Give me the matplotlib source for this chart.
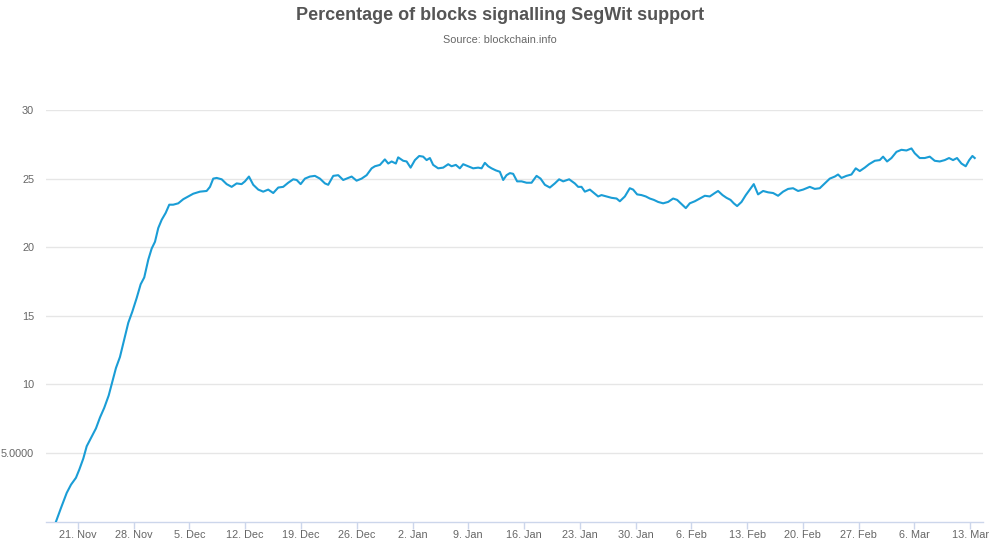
import matplotlib
matplotlib.use("Agg")
import matplotlib.pyplot as plt
import matplotlib.dates as mdates
import pandas as pd

# ---- data ----
start_date = "2016-11-17"
day_offsets = [
    1.25, 1.88, 2.60, 3.14, 3.76, 4.18, 4.68, 5.11, 5.65, 6.27, 6.78, 7.31, 7.87, 8.28, 8.78,
    9.28, 9.70, 10.33, 10.83, 11.38, 11.88, 12.33, 12.84, 13.26, 13.68, 14.09, 14.52, 15.02,
    15.47, 15.97, 16.60, 17.23, 17.85, 18.48, 19.32, 20.16, 20.58, 20.99, 21.42, 22.05, 22.67,
    23.30, 23.93, 24.55, 24.97, 25.47, 26.01, 26.64, 27.26, 27.89, 28.52, 29.15, 29.77, 30.40,
    31.03, 31.46, 31.96, 32.50, 33.12, 33.75, 34.38, 35.01, 35.42, 36.05, 36.68, 37.30, 37.73,
    38.36, 38.98, 39.61, 40.24, 40.87, 41.28, 41.91, 42.53, 42.95, 43.38, 43.91, 44.20, 44.83,
    45.26, 45.76, 46.30, 46.84, 47.34, 47.77, 48.18, 48.59, 49.22, 49.85, 50.48, 50.90, 51.44,
    51.94, 52.36, 52.99, 53.61, 54.24, 54.67, 55.08, 55.50, 55.92, 56.46, 56.96, 57.38, 57.80,
    58.22, 58.63, 59.13, 59.69, 60.31, 60.94, 61.57, 62.07, 62.61, 63.24, 63.86, 64.40, 64.91,
    65.66, 66.37, 66.79, 67.21, 67.63, 68.26, 68.67, 69.30, 69.72, 70.35, 70.98, 71.61, 72.02,
    72.65, 73.27, 73.69, 74.19, 74.74, 75.28, 75.78, 76.29, 76.83, 77.45, 78.08, 78.71, 79.21,
    79.76, 80.30, 80.80, 81.43, 82.06, 82.69, 83.31, 83.94, 84.35, 84.91, 85.41, 85.91, 86.32,
    86.74, 87.29, 87.83, 88.33, 88.83, 89.37, 90.00, 90.63, 91.26, 91.88, 92.51, 93.14, 93.76,
    94.39, 95.02, 95.86, 96.49, 97.11, 97.74, 98.37, 99.00, 99.41, 99.84, 100.46, 101.09,
    101.63, 102.13, 102.76, 103.30, 104.02, 104.64, 105.06, 105.56, 106.11, 106.74, 107.36,
    107.99, 108.62, 109.03, 109.66, 110.29, 110.92, 111.54, 112.17, 112.80, 113.34, 113.84,
    114.34, 114.89, 115.43, 115.87, 116.27, 116.56,
]
segwit_pct = [
    0.0, 1.0, 2.1, 2.7, 3.2, 3.8, 4.6, 5.5, 6.1, 6.8, 7.6, 8.3, 9.2, 10.1, 11.2,
    12.0, 13.0, 14.5, 15.3, 16.3, 17.3, 17.8, 19.1, 19.9, 20.4, 21.4, 22.0, 22.5,
    23.1, 23.1, 23.2, 23.5, 23.7, 23.9, 24.05, 24.1, 24.4, 25.0, 25.05, 24.95, 24.6,
    24.4, 24.65, 24.6, 24.8, 25.15, 24.55, 24.2, 24.05, 24.2, 23.95, 24.35, 24.4, 24.7,
    24.95, 24.9, 24.6, 25.0, 25.15, 25.2, 25.0, 24.65, 24.55, 25.2, 25.25, 24.9, 25.0,
    25.15, 24.85, 25.0, 25.25, 25.75, 25.9, 26.0, 26.4, 26.1, 26.25, 26.1, 26.55, 26.3,
    26.25, 25.8, 26.35, 26.65, 26.6, 26.35, 26.5, 26.0, 25.75, 25.8, 26.05, 25.9, 26.0,
    25.75, 26.05, 25.9, 25.75, 25.8, 25.75, 26.15, 25.9, 25.75, 25.6, 25.5, 24.9, 25.25,
    25.4, 25.35, 24.8, 24.8, 24.7, 24.7, 25.2, 25.0, 24.55, 24.35, 24.65, 24.95, 24.8,
    24.95, 24.65, 24.4, 24.4, 24.05, 24.2, 24.0, 23.7, 23.8, 23.7, 23.6, 23.55, 23.35,
    23.7, 24.3, 24.2, 23.85, 23.8, 23.7, 23.55, 23.45, 23.3, 23.2, 23.3, 23.55, 23.45,
    23.15, 22.85, 23.2, 23.35, 23.55, 23.75, 23.7, 23.95, 24.1, 23.8, 23.6, 23.45, 23.2,
    23.0, 23.3, 23.8, 24.2, 24.6, 23.85, 24.1, 24.0, 23.95, 23.75, 24.05, 24.25, 24.3,
    24.1, 24.2, 24.4, 24.25, 24.3, 24.65, 25.0, 25.15, 25.3, 25.05, 25.2, 25.3,
    25.75, 25.55, 25.8, 26.05, 26.3, 26.35, 26.6, 26.25, 26.5, 26.95, 27.1,
    27.05, 27.2, 26.85, 26.5, 26.5, 26.6, 26.3, 26.25, 26.35, 26.5, 26.35,
    26.5, 26.1, 25.9, 26.35, 26.65, 26.5,
]
ytick_values = [5, 10, 15, 20, 25, 30]
ytick_labels = ["5.0000", "10", "15", "20", "25", "30"]
title_text = "Percentage of blocks signalling SegWit support"
subtitle_text = "Source: blockchain.info"

# ---- plot ----
plt.rcParams["font.family"] = ["Liberation Sans", "DejaVu Sans"]

t0 = pd.Timestamp(start_date)
dates = [t0 + pd.Timedelta(days=d) for d in day_offsets]

fig = plt.figure(figsize=(10, 5.44), dpi=100)
ax = fig.add_axes([0.046, 1 - 521.7 / 544, 0.937, (521.7 - 110) / 544])

ax.plot(dates, segwit_pct, color="#1a9dd6", linewidth=1.5, solid_joinstyle="round", zorder=3)

ax.set_ylim(0, 30)
ax.set_xlim(t0, t0 + pd.Timedelta(days=117.6))

ax.set_yticks(ytick_values)
ax.set_yticklabels(ytick_labels)
ax.grid(axis="y", color="#e6e6e6", linewidth=1)
ax.set_axisbelow(True)

ax.xaxis.set_major_locator(mdates.WeekdayLocator(byweekday=mdates.MO))
ax.xaxis.set_major_formatter(
    matplotlib.ticker.FuncFormatter(lambda v, p: (lambda d: f"{d.day}. {d.strftime('%b')}")(mdates.num2date(v)))
)

for s in ["top", "right", "left"]:
    ax.spines[s].set_visible(False)
ax.spines["bottom"].set_color("#ccd6eb")
ax.spines["bottom"].set_linewidth(1)

ax.tick_params(axis="x", colors="#666666", labelsize=7.8, length=5, width=1, color="#ccd6eb", pad=1)
ax.tick_params(axis="y", colors="#666666", labelsize=7.8, length=0, pad=8.5)

fig.text(0.5, 1 - 15 / 544, title_text, ha="center", va="center", fontsize=13,
         fontweight="bold", color="#555555")
fig.text(0.5, 1 - 40 / 544, subtitle_text, ha="center", va="center", fontsize=7.8, color="#666666")

fig.savefig("out.png", dpi=100, facecolor="white")
